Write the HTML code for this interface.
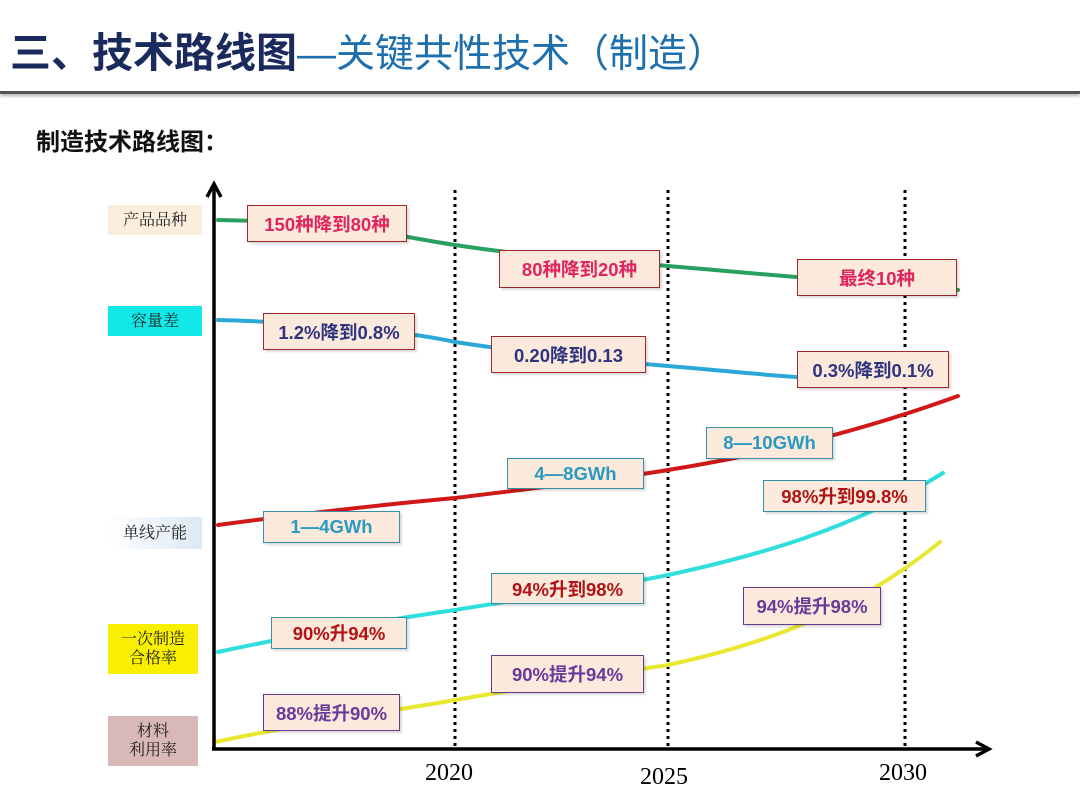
<!DOCTYPE html>
<html><head><meta charset="utf-8"><style>
body{margin:0;width:1080px;height:810px;background:#fff;position:relative;overflow:hidden;font-family:"Liberation Sans","Noto Sans CJK SC",sans-serif}
.t{position:absolute;white-space:nowrap}
.b{position:absolute;box-sizing:border-box;background:#fbeadb;display:flex;align-items:center;justify-content:center;font-weight:bold;font-size:18.5px;box-shadow:2px 2px 2px rgba(0,0,0,.15)}
.r{border:1.5px solid #a0282a}
.c{border:1.5px solid #3a8fa8}
.p{border:1.5px solid #6a3a8a}
.l{position:absolute;box-sizing:border-box;display:flex;align-items:center;justify-content:center;text-align:center;font-family:"Liberation Serif","Noto Serif CJK SC",serif;font-size:16px;line-height:19px;color:#222}
</style></head><body>
<div class="t" style="left:10px;top:28px;font-size:41px;font-weight:bold;color:#1a2a5c;line-height:50px">三、技术路线图<span style="font-weight:normal;color:#1e6fae;font-size:39px">—关键共性技术（制造）</span></div>
<div style="position:absolute;left:0;top:91px;width:1080px;height:3px;background:#555;box-shadow:0 2px 3px #aaa"></div>
<div class="t" style="left:36px;top:122px;font-size:24px;font-weight:bold;color:#111">制造技术路线图：</div>

<svg style="position:absolute;left:0;top:0" width="1080" height="810">
<g stroke="#000" stroke-width="3" stroke-dasharray="3,4">
<line x1="455" y1="190" x2="455" y2="748"/><line x1="668" y1="190" x2="668" y2="748"/><line x1="905" y1="190" x2="905" y2="748"/></g>
<g fill="none" stroke-width="4" stroke-linecap="round">
<path d="M218,220 L300,222 C380,230 420,240 455,245 C540,258 620,262 668,266 C740,272 800,278 958,290" stroke="#2aa060"/>
<path d="M218,320 C300,322 400,330 455,342 C540,355 620,362 668,366 C740,372 790,378 840,379" stroke="#2aa8d8"/>
<path d="M218,525 C330,510 400,503 455,498 C560,485 620,478 668,470 C760,455 850,435 958,396" stroke="#d01818"/>
<path d="M218,652 C320,630 400,618 455,610 C560,593 620,585 668,575 C760,555 850,530 943,473" stroke="#30dede"/>
<path d="M215,742 C320,720 400,710 455,700 C560,682 620,672 668,665 C760,645 850,615 940,542" stroke="#e8e830"/>
</g>
<g stroke="#000" stroke-width="3.5" fill="none">
<line x1="214" y1="750" x2="214" y2="188"/><line x1="212" y1="749" x2="985" y2="749"/>
<polyline points="207,197 214,184 221,197"/><polyline points="976,742 989,749 976,756"/></g>
</svg>

<div class="l" style="left:108px;top:205px;width:94px;height:30px;background:#fbeede">产品品种</div>
<div class="l" style="left:108px;top:306px;width:94px;height:30px;background:#12e8e8">容量差</div>
<div class="l" style="left:108px;top:517px;width:94px;height:32px;background:linear-gradient(90deg,#fff,#dce8f4)">单线产能</div>
<div class="l" style="left:108px;top:624px;width:90px;height:50px;background:#f8f000">一次制造<br>合格率</div>
<div class="l" style="left:108px;top:716px;width:90px;height:50px;background:#d8b8b8">材料<br>利用率</div>

<div class="b r" style="left:247px;top:205px;width:160px;height:37px;color:#e0245e">150种降到80种</div>
<div class="b r" style="left:499px;top:250px;width:161px;height:38px;color:#e0245e">80种降到20种</div>
<div class="b r" style="left:797px;top:259px;width:160px;height:37px;color:#e0245e">最终10种</div>
<div class="b r" style="left:263px;top:313px;width:152px;height:37px;color:#2e3480">1.2%降到0.8%</div>
<div class="b r" style="left:491px;top:336px;width:155px;height:37px;color:#2e3480">0.20降到0.13</div>
<div class="b r" style="left:797px;top:351px;width:152px;height:37px;color:#2e3480">0.3%降到0.1%</div>
<div class="b c" style="left:706px;top:427px;width:127px;height:32px;color:#2a9ac0">8—10GWh</div>
<div class="b c" style="left:507px;top:458px;width:137px;height:31px;color:#2a9ac0">4—8GWh</div>
<div class="b c" style="left:263px;top:511px;width:137px;height:32px;color:#2a9ac0">1—4GWh</div>
<div class="b c" style="left:763px;top:480px;width:163px;height:32px;color:#b01414">98%升到99.8%</div>
<div class="b c" style="left:491px;top:573px;width:153px;height:31px;color:#b01414">94%升到98%</div>
<div class="b c" style="left:271px;top:617px;width:136px;height:32px;color:#b01414">90%升94%</div>
<div class="b p" style="left:743px;top:587px;width:138px;height:38px;color:#6a3a9a">94%提升98%</div>
<div class="b p" style="left:491px;top:655px;width:153px;height:38px;color:#6a3a9a">90%提升94%</div>
<div class="b p" style="left:263px;top:694px;width:137px;height:37px;color:#6a3a9a">88%提升90%</div>

<div class="t" style="left:425px;top:760px;font-family:'Liberation Serif',serif;font-size:24px">2020</div>
<div class="t" style="left:640px;top:764px;font-family:'Liberation Serif',serif;font-size:24px">2025</div>
<div class="t" style="left:879px;top:760px;font-family:'Liberation Serif',serif;font-size:24px">2030</div>
</body></html>
